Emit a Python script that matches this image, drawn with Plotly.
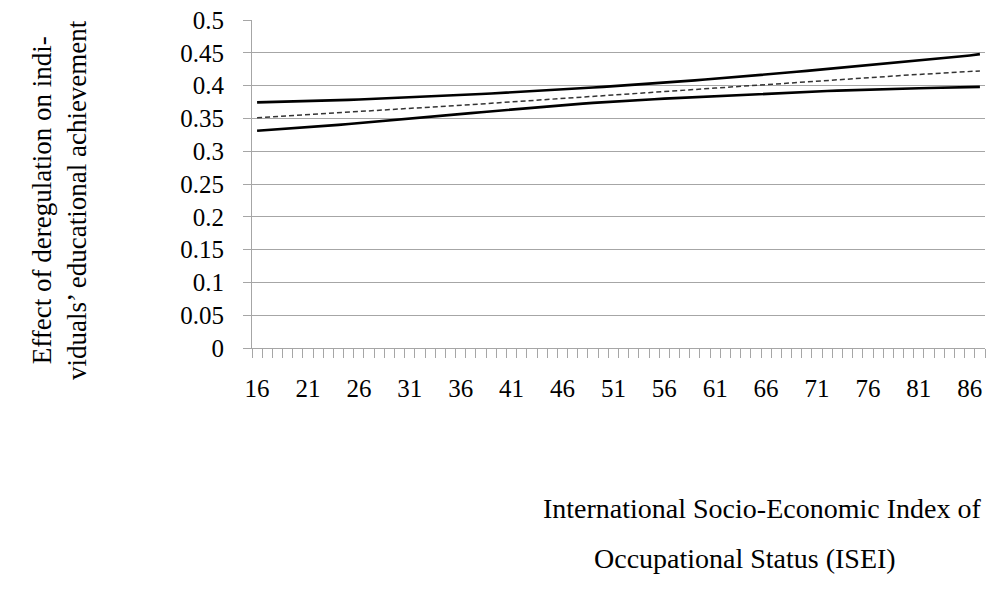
import plotly.graph_objects as go

# ISEI categories
isei = list(range(16, 88))

upper = [0.3745, 0.3748, 0.3751, 0.3754, 0.3757, 0.3761, 0.3766, 0.3771, 0.3776, 0.3782,
         0.3788, 0.3794, 0.3800, 0.3806, 0.3813, 0.3820, 0.3827, 0.3834, 0.3841, 0.3848,
         0.3856, 0.3864, 0.3872, 0.3880, 0.3888, 0.3896, 0.3905, 0.3914, 0.3923, 0.3932,
         0.3941, 0.3950, 0.3960, 0.3970, 0.3980, 0.3990, 0.4000, 0.4011, 0.4022, 0.4033,
         0.4044, 0.4056, 0.4068, 0.4080, 0.4092, 0.4104, 0.4117, 0.4130, 0.4143, 0.4156,
         0.4169, 0.4182, 0.4196, 0.4210, 0.4224, 0.4238, 0.4252, 0.4266, 0.4280, 0.4294,
         0.4308, 0.4322, 0.4337, 0.4352, 0.4367, 0.4382, 0.4397, 0.4412, 0.4427, 0.4443,
         0.4460, 0.4480]

estimate = [0.3510, 0.3519, 0.3528, 0.3537, 0.3546, 0.3555, 0.3564, 0.3573, 0.3582, 0.3591,
            0.3600, 0.3610, 0.3620, 0.3630, 0.3640, 0.3650, 0.3660, 0.3670, 0.3680, 0.3690,
            0.3700, 0.3710, 0.3720, 0.3730, 0.3740, 0.3750, 0.3760, 0.3770, 0.3780, 0.3790,
            0.3800, 0.3810, 0.3820, 0.3830, 0.3841, 0.3852, 0.3863, 0.3874, 0.3885, 0.3896,
            0.3907, 0.3918, 0.3929, 0.3940, 0.3951, 0.3962, 0.3973, 0.3984, 0.3995, 0.4006,
            0.4017, 0.4028, 0.4039, 0.4050, 0.4061, 0.4072, 0.4083, 0.4093, 0.4103, 0.4113,
            0.4123, 0.4133, 0.4143, 0.4152, 0.4161, 0.4170, 0.4179, 0.4188, 0.4197, 0.4206,
            0.4215, 0.4224]

lower = [0.3311, 0.3321, 0.3331, 0.3341, 0.3352, 0.3363, 0.3375, 0.3388, 0.3401, 0.3414,
         0.3427, 0.3441, 0.3455, 0.3469, 0.3483, 0.3497, 0.3511, 0.3525, 0.3539, 0.3553,
         0.3567, 0.3581, 0.3595, 0.3609, 0.3623, 0.3637, 0.3650, 0.3663, 0.3676, 0.3689,
         0.3701, 0.3713, 0.3725, 0.3736, 0.3747, 0.3757, 0.3767, 0.3776, 0.3785, 0.3793,
         0.3801, 0.3809, 0.3817, 0.3825, 0.3833, 0.3841, 0.3848, 0.3855, 0.3862, 0.3869,
         0.3876, 0.3883, 0.3890, 0.3897, 0.3904, 0.3911, 0.3917, 0.3923, 0.3929, 0.3934,
         0.3939, 0.3944, 0.3948, 0.3952, 0.3956, 0.3960, 0.3964, 0.3968, 0.3971, 0.3974,
         0.3977, 0.3980]

x_tick_vals = [16, 21, 26, 31, 36, 41, 46, 51, 56, 61, 66, 71, 76, 81, 86]
x_tick_text = [str(v) for v in x_tick_vals]
y_tick_vals = [0, 0.05, 0.1, 0.15, 0.2, 0.25, 0.3, 0.35, 0.4, 0.45, 0.5]
y_tick_text = ["0", "0.05", "0.1", "0.15", "0.2", "0.25", "0.3", "0.35", "0.4", "0.45", "0.5"]

FONT = "Liberation Serif, Times New Roman, serif"
GRID = "#a6a6a6"

fig = go.Figure()
fig.add_trace(go.Scatter(x=isei, y=upper, mode="lines",
                         line=dict(color="black", width=2.6), showlegend=False))
fig.add_trace(go.Scatter(x=isei, y=estimate, mode="lines",
                         line=dict(color="#333333", width=1.5, dash="5px,3px"), showlegend=False))
fig.add_trace(go.Scatter(x=isei, y=lower, mode="lines",
                         line=dict(color="black", width=2.6), showlegend=False))

fig.update_layout(
    width=989, height=601,
    margin=dict(l=252, r=4, t=20, b=253),
    plot_bgcolor="white", paper_bgcolor="white",
    font=dict(family=FONT, color="black", size=25),
    xaxis=dict(
        range=[15.5, 87.5], tickmode="array", tickvals=x_tick_vals, ticktext=x_tick_text,
        ticks="", showgrid=False, zeroline=False,
        showline=True, linecolor=GRID, linewidth=1,
        ticklabelstandoff=18,
        tickfont=dict(size=25, family=FONT),
        minor=dict(tickmode="linear", tick0=15.5, dtick=1, ticks="outside",
                   ticklen=9, tickcolor=GRID, tickwidth=1, showgrid=False),
    ),
    yaxis=dict(
        range=[0, 0.5], tickmode="array", tickvals=y_tick_vals, ticktext=y_tick_text,
        ticks="outside", ticklen=8, tickcolor=GRID, tickwidth=1,
        showgrid=True, gridcolor=GRID, gridwidth=1, zeroline=False,
        showline=True, linecolor=GRID, linewidth=1,
        ticklabelstandoff=14,
        tickfont=dict(size=25, family=FONT),
    ),
    annotations=[
        dict(text="Effect of deregulation on indi-<br>viduals’ educational achievement",
             xref="paper", yref="paper", x=(59 - 252) / 733, y=(348 - 200) / 328,
             xanchor="center", yanchor="middle", textangle=-90, showarrow=False,
             font=dict(size=27, family=FONT)),
        dict(text="International Socio-Economic Index of",
             xref="paper", yref="paper", x=(762 - 252) / 733, y=(348 - 508) / 328,
             xanchor="center", yanchor="middle", showarrow=False,
             font=dict(size=28, family=FONT)),
        dict(text="Occupational Status (ISEI)",
             xref="paper", yref="paper", x=(745 - 252) / 733, y=(348 - 558) / 328,
             xanchor="center", yanchor="middle", showarrow=False,
             font=dict(size=28, family=FONT)),
    ],
)

fig.write_html("out.html", config={"displayModeBar": False},
               post_script="document.body.style.margin='0';")
